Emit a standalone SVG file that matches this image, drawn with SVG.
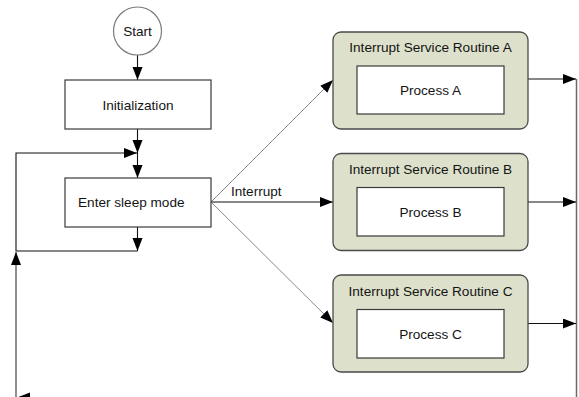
<svg xmlns="http://www.w3.org/2000/svg" width="579" height="397" viewBox="0 0 579 397">
  <style>
    text { font-family: "Liberation Sans", Arial, sans-serif; font-size: 13.6px; fill: #141414; }
    .box { fill: #ffffff; stroke: #3a3a3a; stroke-width: 1.2; }
    .isr { fill: #dde1cb; stroke: #4a4a4a; stroke-width: 1.3; }
    .flow { fill: none; stroke: #111; stroke-width: 1.1; }
    .thin { fill: none; stroke: #8a8a8a; stroke-width: 1; }
    .rail { fill: none; stroke: #6a6a6a; stroke-width: 1.5; }
  </style>
  <defs>
    <marker id="arrow" markerUnits="userSpaceOnUse" markerWidth="14" markerHeight="11" refX="13" refY="5" orient="auto">
      <path d="M0,0 L13,5 L0,10 z" fill="#000"/>
    </marker>
  </defs>

  <rect width="579" height="397" fill="#ffffff"/>

  <g id="connectors">
    <!-- main flow -->
    <line class="flow" x1="137.5" y1="55" x2="137.5" y2="80" marker-end="url(#arrow)"/>
    <line class="flow" x1="137.5" y1="129" x2="137.5" y2="153" marker-end="url(#arrow)"/>
    <line class="flow" x1="137.5" y1="153" x2="137.5" y2="178" marker-end="url(#arrow)"/>
    <line class="flow" x1="137.5" y1="227" x2="137.5" y2="251" marker-end="url(#arrow)"/>
    <!-- loop back from below sleep box -->
    <polyline class="flow" points="137.5,251 16,251 16,153 137,153" marker-end="url(#arrow)"/>
    <!-- return rail from the interrupt handlers -->
    <line class="rail" x1="16" y1="397" x2="16" y2="252" marker-end="url(#arrow)"/>
    <line class="rail" x1="576.5" y1="79" x2="576.5" y2="397"/>
    <line class="flow" x1="576" y1="397.5" x2="17" y2="397.5" stroke="none" marker-end="url(#arrow)"/>
    <!-- interrupt dispatch -->
    <line class="thin" x1="211" y1="202" x2="333" y2="80" marker-end="url(#arrow)"/>
    <line class="flow" x1="211" y1="202" x2="333" y2="202" marker-end="url(#arrow)"/>
    <line class="thin" x1="211" y1="202" x2="333" y2="323" marker-end="url(#arrow)"/>
    <text x="231" y="196">Interrupt</text>
    <!-- handler exits -->
    <line class="flow" x1="528" y1="79" x2="576" y2="79" marker-end="url(#arrow)"/>
    <line class="flow" x1="528" y1="202" x2="576" y2="202" marker-end="url(#arrow)"/>
    <line class="flow" x1="528" y1="323.5" x2="576" y2="323.5" marker-end="url(#arrow)"/>
  </g>

  <g id="start">
    <circle cx="137.5" cy="31" r="24" fill="#fff" stroke="#7a7a7a" stroke-width="1.2"/>
    <text x="137.5" y="36" text-anchor="middle">Start</text>
  </g>

  <g id="init">
    <rect class="box" x="65" y="80" width="146" height="49"/>
    <text x="138" y="109.5" text-anchor="middle">Initialization</text>
  </g>

  <g id="sleep">
    <rect class="box" x="65" y="178" width="146" height="49"/>
    <text x="78" y="207">Enter sleep mode</text>
  </g>

  <g id="isr-a">
    <rect class="isr" x="333" y="32" width="195" height="97" rx="8"/>
    <text x="430.5" y="52" text-anchor="middle">Interrupt Service Routine A</text>
    <rect class="box" x="357" y="66" width="147" height="48"/>
    <text x="430.5" y="94.5" text-anchor="middle">Process A</text>
  </g>

  <g id="isr-b">
    <rect class="isr" x="333" y="153.5" width="195" height="97" rx="8"/>
    <text x="430.5" y="173.5" text-anchor="middle">Interrupt Service Routine B</text>
    <rect class="box" x="357" y="187.5" width="147" height="48.5"/>
    <text x="430.5" y="216.5" text-anchor="middle">Process B</text>
  </g>

  <g id="isr-c">
    <rect class="isr" x="333" y="275" width="195" height="97" rx="8"/>
    <text x="430.5" y="295.5" text-anchor="middle">Interrupt Service Routine C</text>
    <rect class="box" x="357" y="309.5" width="147" height="48.5"/>
    <text x="430.5" y="338.5" text-anchor="middle">Process C</text>
  </g>
</svg>
